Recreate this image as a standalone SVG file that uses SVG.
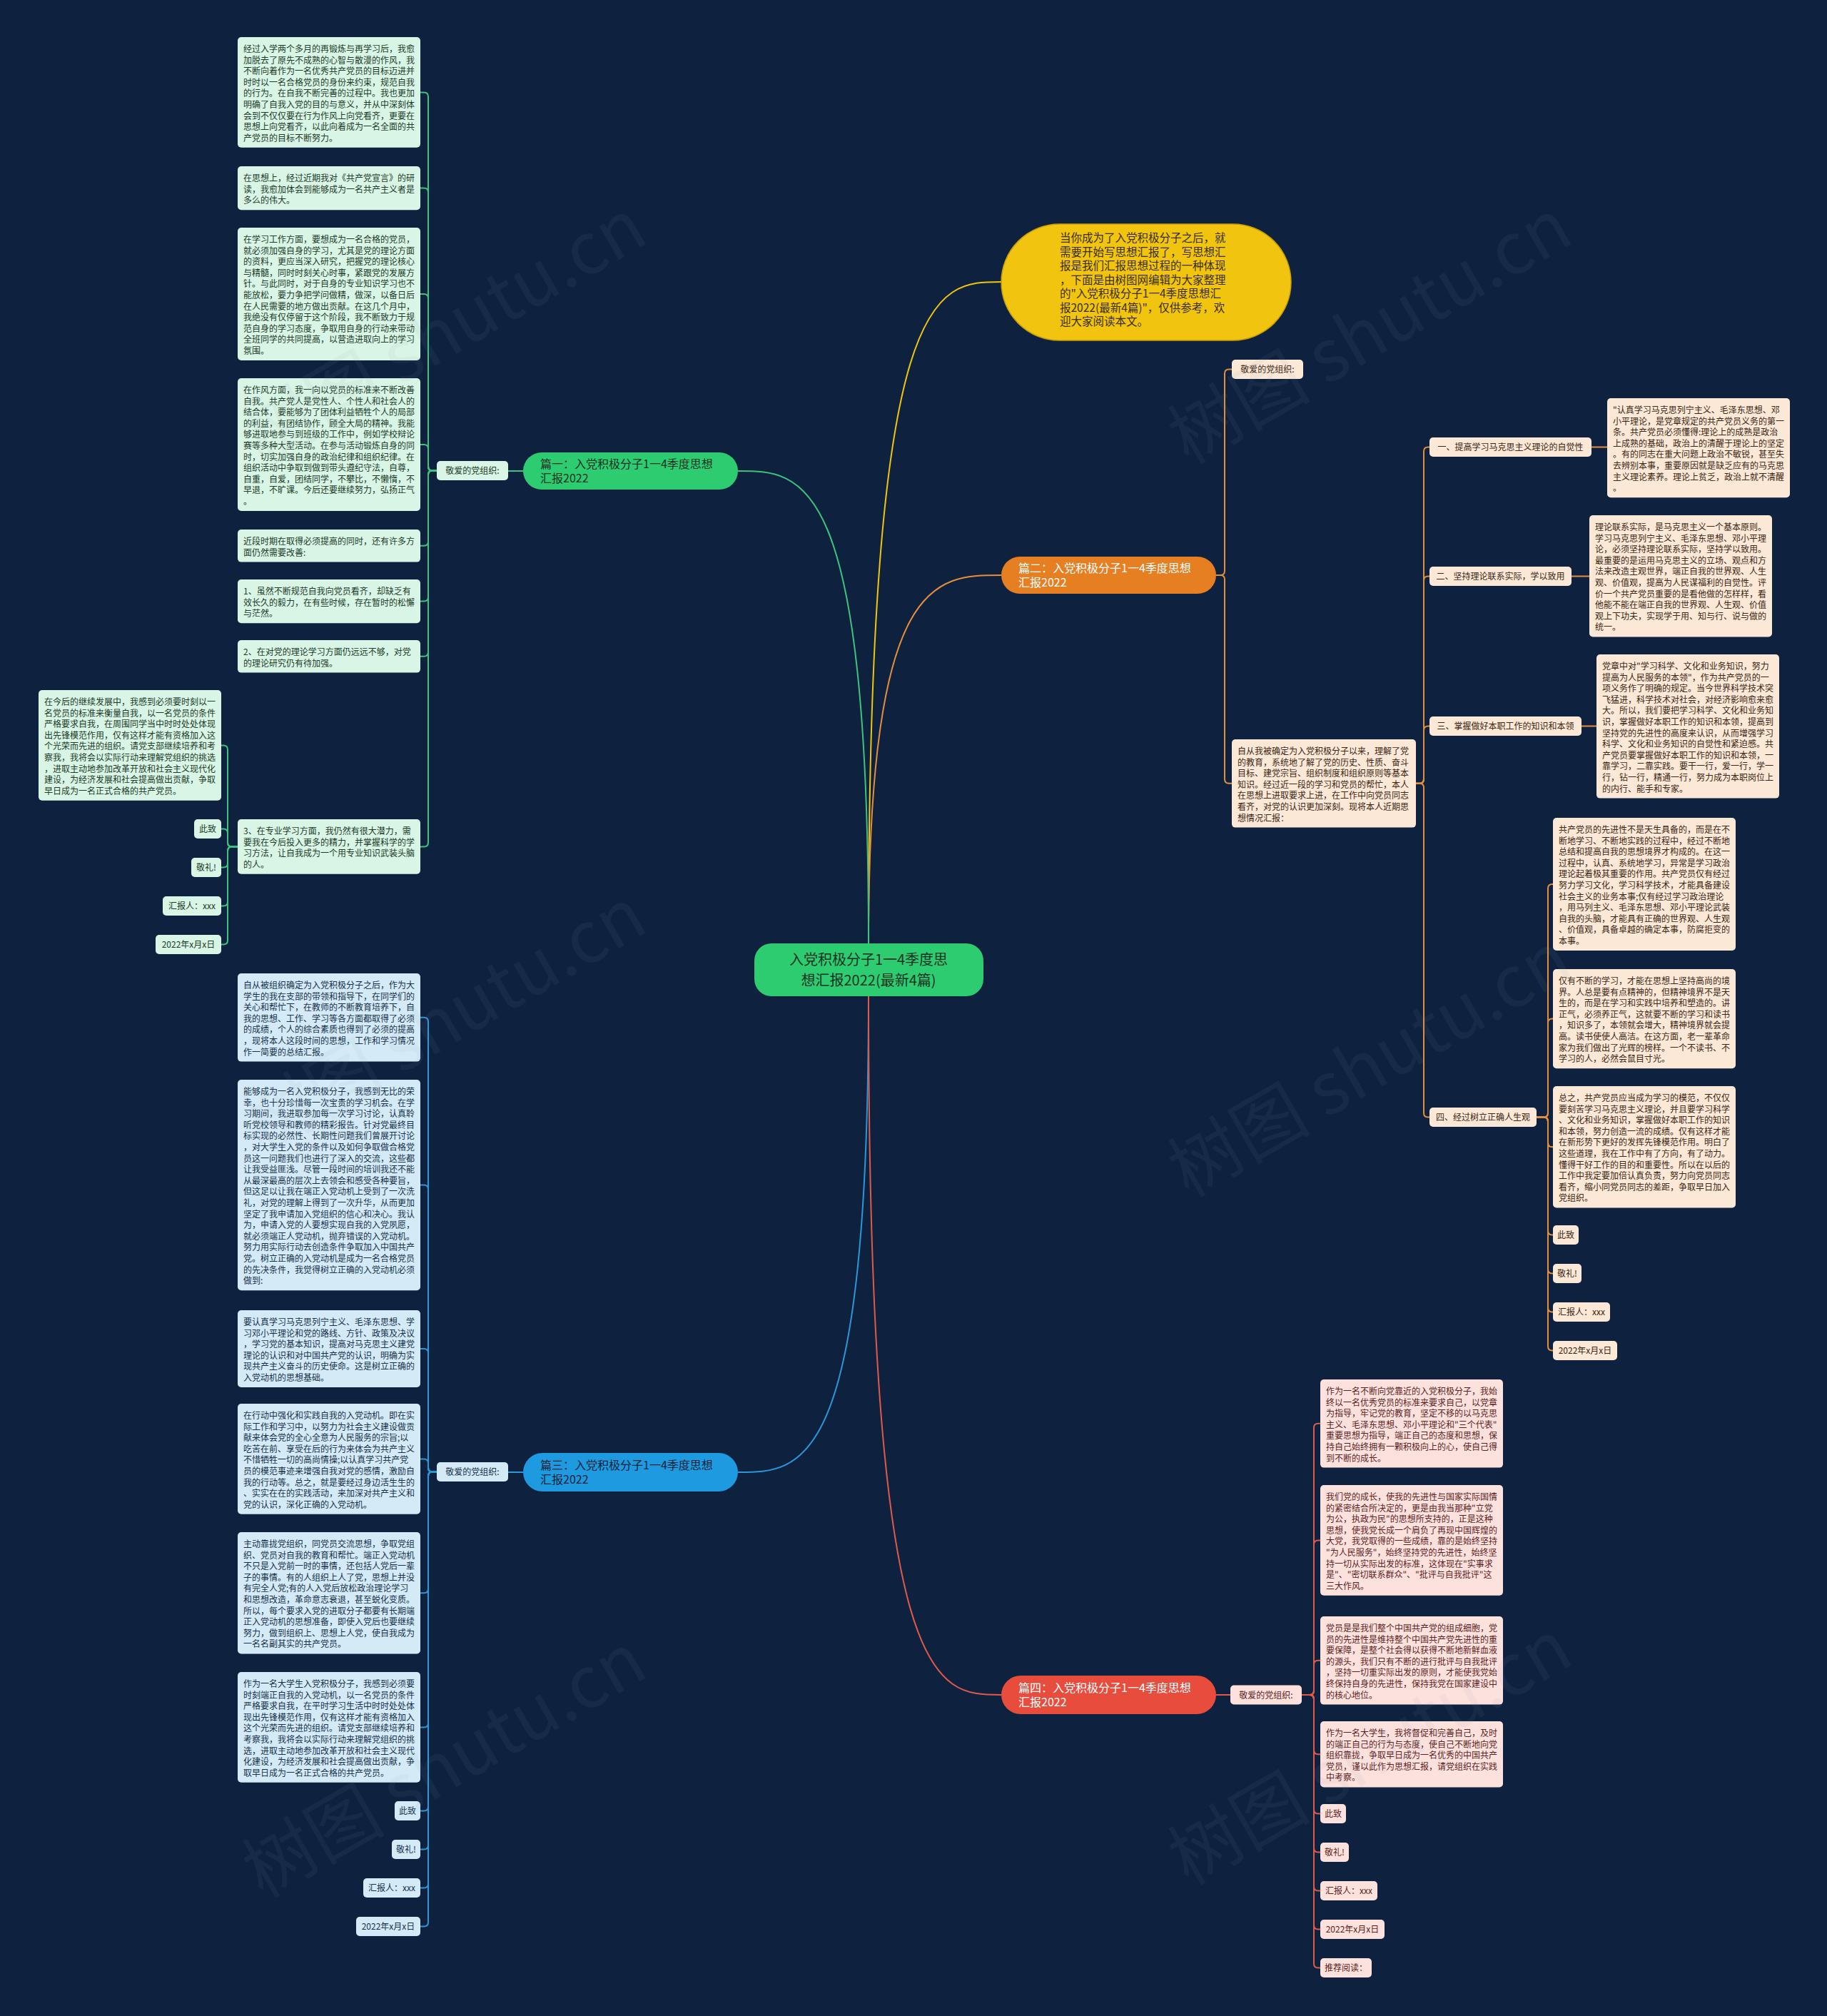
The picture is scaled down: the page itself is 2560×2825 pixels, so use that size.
<svg xmlns="http://www.w3.org/2000/svg" width="2560" height="2825" viewBox="0 0 2560 2825">
<style>
.t{font-family:"Noto Sans CJK SC","Noto Sans",sans-serif;font-size:12px}
.n{font-family:"Noto Sans CJK SC","Noto Sans",sans-serif;font-size:16px}
.gb{fill:#d9f5e5}.gt{fill:#1c3a29}
.bb{fill:#d4ebf7}.bt{fill:#16304a}
.ob{fill:#fbe8d6}.ot{fill:#3b2614}
.rb{fill:#fde1dd}.rt{fill:#5b1f1f}
.lk{fill:none;stroke-width:2}
.lg{stroke:#3cc47c}.lb{stroke:#2a97d8}.lo{stroke:#e58e3c}.lr{stroke:#e05a4a}.ly{stroke:#f1c40f}
.wm{font-family:"Noto Sans CJK SC","Noto Sans",sans-serif;font-size:100px;fill:#8a9bb0;opacity:0.07}
</style>
<rect width="2560" height="2825" fill="#0e2240"/>

<g id="connectors">
<path class="lk ly" d="M1217 1322 C1217 395 1310 395 1403 395" stroke-width="2.5"/>
<path class="lk lo" d="M1217 1322 C1217 806 1310 806 1403 806" stroke-width="2.5"/>
<path class="lk lg" d="M1217 1322 C1217 660 1125 660 1034 660" stroke-width="2.5"/>
<path class="lk lb" d="M1217 1396 C1217 2063 1125 2063 1034 2063" stroke-width="2.5"/>
<path class="lk lr" d="M1217 1396 C1217 2375 1310 2375 1403 2375" stroke-width="2.5"/>

<path class="lk lg" d="M733 660 H712"/>
<path class="lk lg" d="M612 659.5 H606 Q600 659.5 600 653.5 V135.4 Q600 129.4 594 129.4 H589"/>
<path class="lk lg" d="M612 659.5 H606 Q600 659.5 600 653.5 V269.6 Q600 263.6 594 263.6 H589"/>
<path class="lk lg" d="M612 659.5 H606 Q600 659.5 600 653.5 V418 Q600 412 594 412 H589"/>
<path class="lk lg" d="M612 659.5 H606 Q600 659.5 600 653.5 V629 Q600 623 594 623 H589"/>
<path class="lk lg" d="M612 659.5 H606 Q600 659.5 600 665.5 V758.8 Q600 764.8 594 764.8 H589"/>
<path class="lk lg" d="M612 659.5 H606 Q600 659.5 600 665.5 V836.6 Q600 842.6 594 842.6 H589"/>
<path class="lk lg" d="M612 659.5 H606 Q600 659.5 600 665.5 V913.8 Q600 919.8 594 919.8 H589"/>
<path class="lk lg" d="M612 659.5 H606 Q600 659.5 600 665.5 V1180.4 Q600 1186.4 594 1186.4 H589"/>
<path class="lk lg" d="M333 1186.4 H325 Q319 1186.4 319 1180.4 V1050.4 Q319 1044.4 313 1044.4 H310"/>
<path class="lk lg" d="M333 1186.4 H325 Q319 1186.4 319 1180.4 V1167.5 Q319 1161.5 313 1161.5 H310"/>
<path class="lk lg" d="M333 1186.4 H325 Q319 1186.4 319 1192.4 V1209.5 Q319 1215.5 313 1215.5 H310"/>
<path class="lk lg" d="M333 1186.4 H325 Q319 1186.4 319 1192.4 V1263.5 Q319 1269.5 313 1269.5 H310"/>
<path class="lk lg" d="M333 1186.4 H325 Q319 1186.4 319 1192.4 V1317.5 Q319 1323.5 313 1323.5 H310"/>

<path class="lk lb" d="M733 2063 H712"/>
<path class="lk lb" d="M612 2062.5 H606 Q600 2062.5 600 2056.5 V1431.8 Q600 1425.8 594 1425.8 H589"/>
<path class="lk lb" d="M612 2062.5 H606 Q600 2062.5 600 2056.5 V1666.6 Q600 1660.6 594 1660.6 H589"/>
<path class="lk lb" d="M612 2062.5 H606 Q600 2062.5 600 2056.5 V1896 Q600 1890 594 1890 H589"/>
<path class="lk lb" d="M612 2062.5 H606 Q600 2062.5 600 2056.5 V2050.4 Q600 2044.4 594 2044.4 H589"/>
<path class="lk lb" d="M612 2062.5 H606 Q600 2062.5 600 2068.5 V2226.2 Q600 2232.2 594 2232.2 H589"/>
<path class="lk lb" d="M612 2062.5 H606 Q600 2062.5 600 2068.5 V2414.4 Q600 2420.4 594 2420.4 H589"/>
<path class="lk lb" d="M612 2062.5 H606 Q600 2062.5 600 2068.5 V2531.5 Q600 2537.5 594 2537.5 H589"/>
<path class="lk lb" d="M612 2062.5 H606 Q600 2062.5 600 2068.5 V2585.5 Q600 2591.5 594 2591.5 H589"/>
<path class="lk lb" d="M612 2062.5 H606 Q600 2062.5 600 2068.5 V2639.5 Q600 2645.5 594 2645.5 H589"/>
<path class="lk lb" d="M612 2062.5 H606 Q600 2062.5 600 2068.5 V2693.5 Q600 2699.5 594 2699.5 H589"/>

<path class="lk lo" d="M1704 806 H1710 Q1716 806 1716 800 V523.5 Q1716 517.5 1722 517.5 H1726"/>
<path class="lk lo" d="M1704 806 H1710 Q1716 806 1716 812 V1091.8 Q1716 1097.8 1722 1097.8 H1726"/>
<path class="lk lo" d="M1984 1097.8 H1989 Q1995 1097.8 1995 1091.8 V632.5 Q1995 626.5 2001 626.5 H2003"/>
<path class="lk lo" d="M1984 1097.8 H1989 Q1995 1097.8 1995 1091.8 V813.5 Q1995 807.5 2001 807.5 H2003"/>
<path class="lk lo" d="M1984 1097.8 H1989 Q1995 1097.8 1995 1091.8 V1023.5 Q1995 1017.5 2001 1017.5 H2003"/>
<path class="lk lo" d="M1984 1097.8 H1989 Q1995 1097.8 1995 1103.8 V1559.5 Q1995 1565.5 2001 1565.5 H2003"/>
<path class="lk lo" d="M2230 626.5 H2252"/>
<path class="lk lo" d="M2202 807.5 H2227"/>
<path class="lk lo" d="M2216 1017.5 H2237"/>
<path class="lk lo" d="M2153 1565.5 H2163 Q2169 1565.5 2169 1559.5 V1245 Q2169 1239 2175 1239 H2176"/>
<path class="lk lo" d="M2153 1565.5 H2163 Q2169 1565.5 2169 1559.5 V1433.6 Q2169 1427.6 2175 1427.6 H2176"/>
<path class="lk lo" d="M2153 1565.5 H2163 Q2169 1565.5 2169 1571.5 V1601.2 Q2169 1607.2 2175 1607.2 H2176"/>
<path class="lk lo" d="M2153 1565.5 H2163 Q2169 1565.5 2169 1571.5 V1724.5 Q2169 1730.5 2175 1730.5 H2176"/>
<path class="lk lo" d="M2153 1565.5 H2163 Q2169 1565.5 2169 1571.5 V1778.5 Q2169 1784.5 2175 1784.5 H2176"/>
<path class="lk lo" d="M2153 1565.5 H2163 Q2169 1565.5 2169 1571.5 V1832.5 Q2169 1838.5 2175 1838.5 H2176"/>
<path class="lk lo" d="M2153 1565.5 H2163 Q2169 1565.5 2169 1571.5 V1886.5 Q2169 1892.5 2175 1892.5 H2176"/>

<path class="lk lr" d="M1704 2375 H1724"/>
<path class="lk lr" d="M1824 2375 H1835 Q1841 2375 1841 2369 V2000.8 Q1841 1994.8 1847 1994.8 H1850"/>
<path class="lk lr" d="M1824 2375 H1835 Q1841 2375 1841 2369 V2164.4 Q1841 2158.4 1847 2158.4 H1850"/>
<path class="lk lr" d="M1824 2375 H1835 Q1841 2375 1841 2369 V2332.8 Q1841 2326.8 1847 2326.8 H1850"/>
<path class="lk lr" d="M1824 2375 H1835 Q1841 2375 1841 2381 V2452.2 Q1841 2458.2 1847 2458.2 H1850"/>
<path class="lk lr" d="M1824 2375 H1835 Q1841 2375 1841 2381 V2535.5 Q1841 2541.5 1847 2541.5 H1850"/>
<path class="lk lr" d="M1824 2375 H1835 Q1841 2375 1841 2381 V2589.5 Q1841 2595.5 1847 2595.5 H1850"/>
<path class="lk lr" d="M1824 2375 H1835 Q1841 2375 1841 2381 V2643.5 Q1841 2649.5 1847 2649.5 H1850"/>
<path class="lk lr" d="M1824 2375 H1835 Q1841 2375 1841 2381 V2697.5 Q1841 2703.5 1847 2703.5 H1850"/>
<path class="lk lr" d="M1824 2375 H1835 Q1841 2375 1841 2381 V2751.5 Q1841 2757.5 1847 2757.5 H1850"/>
</g>

<g id="root">
<rect x="1057" y="1322" width="321" height="74" rx="24" fill="#2ecc71"/>
<text font-family="Noto Sans CJK SC, Noto Sans, sans-serif" font-size="20" fill="#153322" text-anchor="middle"><tspan x="1217" y="1352">入党积极分子1一4季度思</tspan><tspan x="1217" y="1381">想汇报2022(最新4篇)</tspan></text>
</g>

<g id="intro">
<rect x="1403" y="314" width="406" height="163" rx="81.5" fill="#f1c40f" stroke="#c99f08" stroke-width="1.5"/>
<text font-family="Noto Sans CJK SC, Noto Sans, sans-serif" font-size="15.5" fill="#3a2e00"><tspan x="1485" y="339">当你成为了入党积极分子之后，就</tspan><tspan x="1485" dy="19.5">需要开始写思想汇报了，写思想汇</tspan><tspan x="1485" dy="19.5">报是我们汇报思想过程的一种体现</tspan><tspan x="1485" dy="19.5">，下面是由树图网编辑为大家整理</tspan><tspan x="1485" dy="19.5">的"入党积极分子1一4季度思想汇</tspan><tspan x="1485" dy="19.5">报2022(最新4篇)"，仅供参考，欢</tspan><tspan x="1485" dy="19.5">迎大家阅读本文。</tspan></text>
</g>

<!-- Branch 1 green -->
<g id="b1">
<rect x="733" y="634" width="301" height="52" rx="26" fill="#2ecc71"/>
<text class="n" fill="#153322"><tspan x="757" y="656">篇一：入党积极分子1一4季度思想</tspan><tspan x="757" dy="20">汇报2022</tspan></text>
</g>
<g id="b1-salute">
<rect class="gb" x="612" y="646" width="100" height="27" rx="5"/>
<text class="t gt" x="662" y="664" text-anchor="middle">敬爱的党组织:</text>
</g>
<g id="b1-p1">
<rect class="gb" x="333" y="52" width="256" height="154.8" rx="5"/>
<text class="t gt"><tspan x="341" y="73">经过入学两个多月的再锻炼与再学习后，我愈</tspan><tspan x="341" dy="15.6">加脱去了原先不成熟的心智与散漫的作风，我</tspan><tspan x="341" dy="15.6">不断向着作为一名优秀共产党员的目标迈进并</tspan><tspan x="341" dy="15.6">时时以一名合格党员的身份来约束，规范自我</tspan><tspan x="341" dy="15.6">的行为。在自我不断完善的过程中。我也更加</tspan><tspan x="341" dy="15.6">明确了自我入党的目的与意义，并从中深刻体</tspan><tspan x="341" dy="15.6">会到不仅仅要在行为作风上向党看齐，更要在</tspan><tspan x="341" dy="15.6">思想上向党看齐，以此向着成为一名全面的共</tspan><tspan x="341" dy="15.6">产党员的目标不断努力。</tspan></text>
</g>
<g id="b1-p2">
<rect class="gb" x="333" y="233" width="256" height="61.2" rx="5"/>
<text class="t gt"><tspan x="341" y="254">在思想上，经过近期我对《共产党宣言》的研</tspan><tspan x="341" dy="15.6">读，我愈加体会到能够成为一名共产主义者是</tspan><tspan x="341" dy="15.6">多么的伟大。</tspan></text>
</g>
<g id="b1-p3">
<rect class="gb" x="333" y="319" width="256" height="186" rx="5"/>
<text class="t gt"><tspan x="341" y="340">在学习工作方面，要想成为一名合格的党员，</tspan><tspan x="341" dy="15.6">就必须加强自身的学习，尤其是党的理论方面</tspan><tspan x="341" dy="15.6">的资料，更应当深入研究，把握党的理论核心</tspan><tspan x="341" dy="15.6">与精髓，同时时刻关心时事，紧跟党的发展方</tspan><tspan x="341" dy="15.6">针。与此同时，对于自身的专业知识学习也不</tspan><tspan x="341" dy="15.6">能放松，要力争把学问做精，做深，以备日后</tspan><tspan x="341" dy="15.6">在人民需要的地方做出贡献。在这几个月中，</tspan><tspan x="341" dy="15.6">我绝没有仅停留于这个阶段，我不断致力于规</tspan><tspan x="341" dy="15.6">范自身的学习态度，争取用自身的行动来带动</tspan><tspan x="341" dy="15.6">全班同学的共同提高，以营造进取向上的学习</tspan><tspan x="341" dy="15.6">氛围。</tspan></text>
</g>
<g id="b1-p4">
<rect class="gb" x="333" y="530" width="256" height="186" rx="5"/>
<text class="t gt"><tspan x="341" y="551">在作风方面，我一向以党员的标准来不断改善</tspan><tspan x="341" dy="15.6">自我。共产党人是党性人、个性人和社会人的</tspan><tspan x="341" dy="15.6">结合体，要能够为了团体利益牺牲个人的局部</tspan><tspan x="341" dy="15.6">的利益，有团结协作，顾全大局的精神。我能</tspan><tspan x="341" dy="15.6">够进取地参与到班级的工作中，例如学校辩论</tspan><tspan x="341" dy="15.6">赛等多种大型活动。在参与活动锻炼自身的同</tspan><tspan x="341" dy="15.6">时，切实加强自身的政治纪律和组织纪律。在</tspan><tspan x="341" dy="15.6">组织活动中争取到做到带头遵纪守法，自尊，</tspan><tspan x="341" dy="15.6">自重，自爱，团结同学，不攀比，不懒惰，不</tspan><tspan x="341" dy="15.6">早退，不旷课。今后还要继续努力，弘扬正气</tspan><tspan x="341" dy="15.6">。</tspan></text>
</g>
<g id="b1-p5">
<rect class="gb" x="333" y="742" width="256" height="45.6" rx="5"/>
<text class="t gt"><tspan x="341" y="763">近段时期在取得必须提高的同时，还有许多方</tspan><tspan x="341" dy="15.6">面仍然需要改善:</tspan></text>
</g>
<g id="b1-p6">
<rect class="gb" x="333" y="812" width="256" height="61.2" rx="5"/>
<text class="t gt"><tspan x="341" y="833">1、虽然不断规范自我向党员看齐，却缺乏有</tspan><tspan x="341" dy="15.6">效长久的毅力，在有些时候，存在暂时的松懈</tspan><tspan x="341" dy="15.6">与茫然。</tspan></text>
</g>
<g id="b1-p7">
<rect class="gb" x="333" y="897" width="256" height="45.6" rx="5"/>
<text class="t gt"><tspan x="341" y="918">2、在对党的理论学习方面仍远远不够，对党</tspan><tspan x="341" dy="15.6">的理论研究仍有待加强。</tspan></text>
</g>
<g id="b1-p8">
<rect class="gb" x="333" y="1148" width="256" height="76.8" rx="5"/>
<text class="t gt"><tspan x="341" y="1169">3、在专业学习方面，我仍然有很大潜力，需</tspan><tspan x="341" dy="15.6">要我在今后投入更多的精力，并掌握科学的学</tspan><tspan x="341" dy="15.6">习方法，让自我成为一个用专业知识武装头脑</tspan><tspan x="341" dy="15.6">的人。</tspan></text>
</g>
<g id="b1-p9">
<rect class="gb" x="54" y="967" width="256" height="154.8" rx="5"/>
<text class="t gt"><tspan x="62" y="988">在今后的继续发展中，我感到必须要时刻以一</tspan><tspan x="62" dy="15.6">名党员的标准来衡量自我，以一名党员的条件</tspan><tspan x="62" dy="15.6">严格要求自我，在周围同学当中时时处处体现</tspan><tspan x="62" dy="15.6">出先锋模范作用，仅有这样才能有资格加入这</tspan><tspan x="62" dy="15.6">个光荣而先进的组织。请党支部继续培养和考</tspan><tspan x="62" dy="15.6">察我，我将会以实际行动来理解党组织的挑选</tspan><tspan x="62" dy="15.6">，进取主动地参加改革开放和社会主义现代化</tspan><tspan x="62" dy="15.6">建设，为经济发展和社会提高做出贡献，争取</tspan><tspan x="62" dy="15.6">早日成为一名正式合格的共产党员。</tspan></text>
</g>
<g id="b1-e1"><rect class="gb" x="272" y="1148" width="38" height="27" rx="5"/><text class="t gt" x="291" y="1166" text-anchor="middle">此致</text></g>
<g id="b1-e2"><rect class="gb" x="268" y="1202" width="42" height="27" rx="5"/><text class="t gt" x="289" y="1220" text-anchor="middle">敬礼!</text></g>
<g id="b1-e3"><rect class="gb" x="228" y="1256" width="82" height="27" rx="5"/><text class="t gt" x="269" y="1274" text-anchor="middle">汇报人：xxx</text></g>
<g id="b1-e4"><rect class="gb" x="218" y="1310" width="92" height="27" rx="5"/><text class="t gt" x="264" y="1328" text-anchor="middle">2022年x月x日</text></g>

<!-- Branch 2 orange -->
<g id="b2">
<rect x="1403" y="780" width="301" height="52" rx="26" fill="#e67e22"/>
<text class="n" fill="#ffffff"><tspan x="1427" y="802">篇二：入党积极分子1一4季度思想</tspan><tspan x="1427" dy="20">汇报2022</tspan></text>
</g>
<g id="b2-salute"><rect class="ob" x="1726" y="504" width="100" height="27" rx="5"/><text class="t ot" x="1776" y="522" text-anchor="middle">敬爱的党组织:</text></g>
<g id="b2-intro">
<rect class="ob" x="1726" y="1036" width="258" height="123.6" rx="5"/>
<text class="t ot"><tspan x="1734" y="1057">自从我被确定为入党积极分子以来，理解了党</tspan><tspan x="1734" dy="15.6">的教育，系统地了解了党的历史、性质、奋斗</tspan><tspan x="1734" dy="15.6">目标、建党宗旨、组织制度和组织原则等基本</tspan><tspan x="1734" dy="15.6">知识。经过近一段的学习和党员的帮忙，本人</tspan><tspan x="1734" dy="15.6">在思想上进取要求上进，在工作中向党员同志</tspan><tspan x="1734" dy="15.6">看齐，对党的认识更加深刻。现将本人近期思</tspan><tspan x="1734" dy="15.6">想情况汇报：</tspan></text>
</g>
<g id="b2-h1"><rect class="ob" x="2003" y="613" width="227" height="27" rx="5"/><text class="t ot" x="2116.5" y="631" text-anchor="middle">一、提高学习马克思主义理论的自觉性</text></g>
<g id="b2-h2"><rect class="ob" x="2003" y="794" width="199" height="27" rx="5"/><text class="t ot" x="2102.5" y="812" text-anchor="middle">二、坚持理论联系实际，学以致用</text></g>
<g id="b2-h3"><rect class="ob" x="2003" y="1004" width="213" height="27" rx="5"/><text class="t ot" x="2109.5" y="1022" text-anchor="middle">三、掌握做好本职工作的知识和本领</text></g>
<g id="b2-h4"><rect class="ob" x="2003" y="1552" width="150" height="27" rx="5"/><text class="t ot" x="2078" y="1570" text-anchor="middle">四、经过树立正确人生观</text></g>
<g id="b2-d1">
<rect class="ob" x="2252" y="558" width="256" height="139.2" rx="5"/>
<text class="t ot"><tspan x="2260" y="579">"认真学习马克思列宁主义、毛泽东思想、邓</tspan><tspan x="2260" dy="15.6">小平理论，是党章规定的共产党员义务的第一</tspan><tspan x="2260" dy="15.6">条。共产党员必须懂得:理论上的成熟是政治</tspan><tspan x="2260" dy="15.6">上成熟的基础，政治上的清醒于理论上的坚定</tspan><tspan x="2260" dy="15.6">。有的同志在重大问题上政治不敏锐，甚至失</tspan><tspan x="2260" dy="15.6">去辨别本事，重要原因就是缺乏应有的马克思</tspan><tspan x="2260" dy="15.6">主义理论素养。理论上贫乏，政治上就不清醒</tspan><tspan x="2260" dy="15.6">。</tspan></text>
</g>
<g id="b2-d2">
<rect class="ob" x="2227" y="722" width="256" height="170.4" rx="5"/>
<text class="t ot"><tspan x="2235" y="743">理论联系实际，是马克思主义一个基本原则。</tspan><tspan x="2235" dy="15.6">学习马克思列宁主义、毛泽东思想、邓小平理</tspan><tspan x="2235" dy="15.6">论，必须坚持理论联系实际，坚持学以致用。</tspan><tspan x="2235" dy="15.6">最重要的是运用马克思主义的立场、观点和方</tspan><tspan x="2235" dy="15.6">法来改造主观世界，端正自我的世界观、人生</tspan><tspan x="2235" dy="15.6">观、价值观，提高为人民谋福利的自觉性。评</tspan><tspan x="2235" dy="15.6">价一个共产党员重要的是看他做的怎样样，看</tspan><tspan x="2235" dy="15.6">他能不能在端正自我的世界观、人生观、价值</tspan><tspan x="2235" dy="15.6">观上下功夫，实现学于用、知与行、说与做的</tspan><tspan x="2235" dy="15.6">统一。</tspan></text>
</g>
<g id="b2-d3">
<rect class="ob" x="2237" y="917" width="256" height="201.6" rx="5"/>
<text class="t ot"><tspan x="2245" y="938">党章中对"学习科学、文化和业务知识，努力</tspan><tspan x="2245" dy="15.6">提高为人民服务的本领"，作为共产党员的一</tspan><tspan x="2245" dy="15.6">项义务作了明确的规定。当今世界科学技术突</tspan><tspan x="2245" dy="15.6">飞猛进，科学技术对社会，对经济影响愈来愈</tspan><tspan x="2245" dy="15.6">大。所以，我们要把学习科学、文化和业务知</tspan><tspan x="2245" dy="15.6">识，掌握做好本职工作的知识和本领，提高到</tspan><tspan x="2245" dy="15.6">坚持党的先进性的高度来认识，从而增强学习</tspan><tspan x="2245" dy="15.6">科学、文化和业务知识的自觉性和紧迫感。共</tspan><tspan x="2245" dy="15.6">产党员要掌握做好本职工作的知识和本领，一</tspan><tspan x="2245" dy="15.6">靠学习，二靠实践。要干一行，爱一行，学一</tspan><tspan x="2245" dy="15.6">行，钻一行，精通一行，努力成为本职岗位上</tspan><tspan x="2245" dy="15.6">的内行、能手和专家。</tspan></text>
</g>
<g id="b2-d4a">
<rect class="ob" x="2176" y="1146" width="256" height="186" rx="5"/>
<text class="t ot"><tspan x="2184" y="1167">共产党员的先进性不是天生具备的，而是在不</tspan><tspan x="2184" dy="15.6">断地学习、不断地实践的过程中，经过不断地</tspan><tspan x="2184" dy="15.6">总结和提高自我的思想境界才构成的。在这一</tspan><tspan x="2184" dy="15.6">过程中，认真、系统地学习，异常是学习政治</tspan><tspan x="2184" dy="15.6">理论起着极其重要的作用。共产党员仅有经过</tspan><tspan x="2184" dy="15.6">努力学习文化，学习科学技术，才能具备建设</tspan><tspan x="2184" dy="15.6">社会主义的业务本事;仅有经过学习政治理论</tspan><tspan x="2184" dy="15.6">，用马列主义、毛泽东思想、邓小平理论武装</tspan><tspan x="2184" dy="15.6">自我的头脑，才能具有正确的世界观、人生观</tspan><tspan x="2184" dy="15.6">、价值观，具备卓越的确定本事，防腐拒变的</tspan><tspan x="2184" dy="15.6">本事。</tspan></text>
</g>
<g id="b2-d4b">
<rect class="ob" x="2176" y="1358" width="256" height="139.2" rx="5"/>
<text class="t ot"><tspan x="2184" y="1379">仅有不断的学习，才能在思想上坚持高尚的境</tspan><tspan x="2184" dy="15.6">界。人总是要有点精神的，但精神境界不是天</tspan><tspan x="2184" dy="15.6">生的，而是在学习和实践中培养和塑造的。讲</tspan><tspan x="2184" dy="15.6">正气，必须养正气，这就要不断的学习和读书</tspan><tspan x="2184" dy="15.6">，知识多了，本领就会增大，精神境界就会提</tspan><tspan x="2184" dy="15.6">高。读书使使人高洁。在这方面，老一辈革命</tspan><tspan x="2184" dy="15.6">家为我们做出了光辉的榜样。一个不读书、不</tspan><tspan x="2184" dy="15.6">学习的人，必然会鼠目寸光。</tspan></text>
</g>
<g id="b2-d4c">
<rect class="ob" x="2176" y="1522" width="256" height="170.4" rx="5"/>
<text class="t ot"><tspan x="2184" y="1543">总之，共产党员应当成为学习的模范，不仅仅</tspan><tspan x="2184" dy="15.6">要刻苦学习马克思主义理论，并且要学习科学</tspan><tspan x="2184" dy="15.6">、文化和业务知识，掌握做好本职工作的知识</tspan><tspan x="2184" dy="15.6">和本领，努力创造一流的成绩。仅有这样才能</tspan><tspan x="2184" dy="15.6">在新形势下更好的发挥先锋模范作用。明白了</tspan><tspan x="2184" dy="15.6">这些道理，我在工作中有了方向，有了动力。</tspan><tspan x="2184" dy="15.6">懂得干好工作的目的和重要性。所以在以后的</tspan><tspan x="2184" dy="15.6">工作中我定要加倍认真负责，努力向党员同志</tspan><tspan x="2184" dy="15.6">看齐，缩小同党员同志的差距，争取早日加入</tspan><tspan x="2184" dy="15.6">党组织。</tspan></text>
</g>
<g id="b2-e1"><rect class="ob" x="2176" y="1717" width="36" height="27" rx="5"/><text class="t ot" x="2194" y="1735" text-anchor="middle">此致</text></g>
<g id="b2-e2"><rect class="ob" x="2176" y="1771" width="40" height="27" rx="5"/><text class="t ot" x="2196" y="1789" text-anchor="middle">敬礼!</text></g>
<g id="b2-e3"><rect class="ob" x="2176" y="1825" width="80" height="27" rx="5"/><text class="t ot" x="2216" y="1843" text-anchor="middle">汇报人：xxx</text></g>
<g id="b2-e4"><rect class="ob" x="2176" y="1879" width="90" height="27" rx="5"/><text class="t ot" x="2221" y="1897" text-anchor="middle">2022年x月x日</text></g>

<!-- Branch 3 blue -->
<g id="b3">
<rect x="733" y="2036" width="301" height="54" rx="27" fill="#1e9be0"/>
<text class="n" fill="#0f2338"><tspan x="757" y="2059">篇三：入党积极分子1一4季度思想</tspan><tspan x="757" dy="20">汇报2022</tspan></text>
</g>
<g id="b3-salute"><rect class="bb" x="612" y="2049" width="100" height="27" rx="5"/><text class="t bt" x="662" y="2067" text-anchor="middle">敬爱的党组织:</text></g>
<g id="b3-p1">
<rect class="bb" x="333" y="1364" width="256" height="123.6" rx="5"/>
<text class="t bt"><tspan x="341" y="1385">自从被组织确定为入党积极分子之后，作为大</tspan><tspan x="341" dy="15.6">学生的我在支部的带领和指导下，在同学们的</tspan><tspan x="341" dy="15.6">关心和帮忙下，在教师的不断教育培养下，自</tspan><tspan x="341" dy="15.6">我的思想、工作、学习等各方面都取得了必须</tspan><tspan x="341" dy="15.6">的成绩，个人的综合素质也得到了必须的提高</tspan><tspan x="341" dy="15.6">，现将本人这段时间的思想，工作和学习情况</tspan><tspan x="341" dy="15.6">作一简要的总结汇报。</tspan></text>
</g>
<g id="b3-p2">
<rect class="bb" x="333" y="1513" width="256" height="295.2" rx="5"/>
<text class="t bt"><tspan x="341" y="1534">能够成为一名入党积极分子，我感到无比的荣</tspan><tspan x="341" dy="15.6">幸，也十分珍惜每一次宝贵的学习机会。在学</tspan><tspan x="341" dy="15.6">习期间，我进取参加每一次学习讨论，认真聆</tspan><tspan x="341" dy="15.6">听党校领导和教师的精彩报告。针对党最终目</tspan><tspan x="341" dy="15.6">标实现的必然性、长期性问题我们曾展开讨论</tspan><tspan x="341" dy="15.6">，对大学生入党的条件以及如何争取做合格党</tspan><tspan x="341" dy="15.6">员这一问题我们也进行了深入的交流，这些都</tspan><tspan x="341" dy="15.6">让我受益匪浅。尽管一段时间的培训我还不能</tspan><tspan x="341" dy="15.6">从最深最高的层次上去领会和感受各种要旨，</tspan><tspan x="341" dy="15.6">但这足以让我在端正入党动机上受到了一次洗</tspan><tspan x="341" dy="15.6">礼，对党的理解上得到了一次升华，从而更加</tspan><tspan x="341" dy="15.6">坚定了我申请加入党组织的信心和决心。我认</tspan><tspan x="341" dy="15.6">为，申请入党的人要想实现自我的入党夙愿，</tspan><tspan x="341" dy="15.6">就必须端正人党动机，抛弃错误的入党动机。</tspan><tspan x="341" dy="15.6">努力用实际行动去创造条件争取加入中国共产</tspan><tspan x="341" dy="15.6">党。树立正确的入党动机是成为一名合格党员</tspan><tspan x="341" dy="15.6">的先决条件，我觉得树立正确的入党动机必须</tspan><tspan x="341" dy="15.6">做到:</tspan></text>
</g>
<g id="b3-p3">
<rect class="bb" x="333" y="1836" width="256" height="108" rx="5"/>
<text class="t bt"><tspan x="341" y="1857">要认真学习马克思列宁主义、毛泽东思想、学</tspan><tspan x="341" dy="15.6">习邓小平理论和党的路线、方针、政策及决议</tspan><tspan x="341" dy="15.6">，学习党的基本知识，提高对马克思主义建党</tspan><tspan x="341" dy="15.6">理论的认识和对中国共产党的认识，明确为实</tspan><tspan x="341" dy="15.6">现共产主义奋斗的历史使命。这是树立正确的</tspan><tspan x="341" dy="15.6">入党动机的思想基础。</tspan></text>
</g>
<g id="b3-p4">
<rect class="bb" x="333" y="1967" width="256" height="154.8" rx="5"/>
<text class="t bt"><tspan x="341" y="1988">在行动中强化和实践自我的入党动机。即在实</tspan><tspan x="341" dy="15.6">际工作和学习中，以努力为社会主义建设做贡</tspan><tspan x="341" dy="15.6">献来体会党的全心全意为人民服务的宗旨;以</tspan><tspan x="341" dy="15.6">吃苦在前、享受在后的行为来体会为共产主义</tspan><tspan x="341" dy="15.6">不惜牺牲一切的高尚情操;以认真学习共产党</tspan><tspan x="341" dy="15.6">员的模范事迹来增强自我对党的感情，激励自</tspan><tspan x="341" dy="15.6">我的行动等。总之，就是要经过身边活生生的</tspan><tspan x="341" dy="15.6">、实实在在的实践活动，来加深对共产主义和</tspan><tspan x="341" dy="15.6">党的认识，深化正确的入党动机。</tspan></text>
</g>
<g id="b3-p5">
<rect class="bb" x="333" y="2147" width="256" height="170.4" rx="5"/>
<text class="t bt"><tspan x="341" y="2168">主动靠拢党组织，同党员交流思想，争取党组</tspan><tspan x="341" dy="15.6">织、党员对自我的教育和帮忙。端正入党动机</tspan><tspan x="341" dy="15.6">不只是入党前一时的事情，还包括人党后一辈</tspan><tspan x="341" dy="15.6">子的事情。有的人组织上人了党，思想上并没</tspan><tspan x="341" dy="15.6">有完全人党;有的人入党后放松政治理论学习</tspan><tspan x="341" dy="15.6">和思想改造，革命意志衰退，甚至蜕化变质。</tspan><tspan x="341" dy="15.6">所以，每个要求入党的进取分子都要有长期端</tspan><tspan x="341" dy="15.6">正入党动机的思想准备，即使入党后也要继续</tspan><tspan x="341" dy="15.6">努力，做到组织上、思想上人党，使自我成为</tspan><tspan x="341" dy="15.6">一名名副其实的共产党员。</tspan></text>
</g>
<g id="b3-p6">
<rect class="bb" x="333" y="2343" width="256" height="154.8" rx="5"/>
<text class="t bt"><tspan x="341" y="2364">作为一名大学生入党积极分子，我感到必须要</tspan><tspan x="341" dy="15.6">时刻端正自我的入党动机，以一名党员的条件</tspan><tspan x="341" dy="15.6">严格要求自我，在平时学习生活中时时处处体</tspan><tspan x="341" dy="15.6">现出先锋模范作用，仅有这样才能有资格加入</tspan><tspan x="341" dy="15.6">这个光荣而先进的组织。请党支部继续培养和</tspan><tspan x="341" dy="15.6">考察我，我将会以实际行动来理解党组织的挑</tspan><tspan x="341" dy="15.6">选，进取主动地参加改革开放和社会主义现代</tspan><tspan x="341" dy="15.6">化建设，为经济发展和社会提高做出贡献，争</tspan><tspan x="341" dy="15.6">取早日成为一名正式合格的共产党员。</tspan></text>
</g>
<g id="b3-e1"><rect class="bb" x="553" y="2524" width="36" height="27" rx="5"/><text class="t bt" x="571" y="2542" text-anchor="middle">此致</text></g>
<g id="b3-e2"><rect class="bb" x="549" y="2578" width="40" height="27" rx="5"/><text class="t bt" x="569" y="2596" text-anchor="middle">敬礼!</text></g>
<g id="b3-e3"><rect class="bb" x="509" y="2632" width="80" height="27" rx="5"/><text class="t bt" x="549" y="2650" text-anchor="middle">汇报人：xxx</text></g>
<g id="b3-e4"><rect class="bb" x="499" y="2686" width="90" height="27" rx="5"/><text class="t bt" x="544" y="2704" text-anchor="middle">2022年x月x日</text></g>

<!-- Branch 4 red -->
<g id="b4">
<rect x="1403" y="2348" width="301" height="54" rx="27" fill="#e74c3c"/>
<text class="n" fill="#ffffff"><tspan x="1427" y="2371">篇四：入党积极分子1一4季度思想</tspan><tspan x="1427" dy="20">汇报2022</tspan></text>
</g>
<g id="b4-salute"><rect class="rb" x="1724" y="2361.5" width="100" height="27" rx="5"/><text class="t rt" x="1774" y="2379.5" text-anchor="middle">敬爱的党组织:</text></g>
<g id="b4-p1">
<rect class="rb" x="1850" y="1933" width="256" height="123.6" rx="5"/>
<text class="t rt"><tspan x="1858" y="1954">作为一名不断向党靠近的入党积极分子，我始</tspan><tspan x="1858" dy="15.6">终以一名优秀党员的标准来要求自己，以党章</tspan><tspan x="1858" dy="15.6">为指导，牢记党的教育，坚定不移的以马克思</tspan><tspan x="1858" dy="15.6">主义、毛泽东思想、邓小平理论和"三个代表"</tspan><tspan x="1858" dy="15.6">重要思想为指导，端正自己的态度和思想，保</tspan><tspan x="1858" dy="15.6">持自己始终拥有一颗积极向上的心，使自己得</tspan><tspan x="1858" dy="15.6">到不断的成长。</tspan></text>
</g>
<g id="b4-p2">
<rect class="rb" x="1850" y="2081" width="256" height="154.8" rx="5"/>
<text class="t rt"><tspan x="1858" y="2102">我们党的成长，使我的先进性与国家实际国情</tspan><tspan x="1858" dy="15.6">的紧密结合所决定的，更是由我当那种"立党</tspan><tspan x="1858" dy="15.6">为公，执政为民"的思想所支持的，正是这种</tspan><tspan x="1858" dy="15.6">思想，使我党长成一个肩负了再现中国辉煌的</tspan><tspan x="1858" dy="15.6">大党，我党取得的一些成绩，靠的是始终坚持</tspan><tspan x="1858" dy="15.6">"为人民服务"，始终坚持党的先进性，始终坚</tspan><tspan x="1858" dy="15.6">持一切从实际出发的标准，这体现在"实事求</tspan><tspan x="1858" dy="15.6">是"、"密切联系群众"、"批评与自我批评"这</tspan><tspan x="1858" dy="15.6">三大作风。</tspan></text>
</g>
<g id="b4-p3">
<rect class="rb" x="1850" y="2265" width="256" height="123.6" rx="5"/>
<text class="t rt"><tspan x="1858" y="2286">党员是是我们整个中国共产党的组成细胞，党</tspan><tspan x="1858" dy="15.6">员的先进性是维持整个中国共产党先进性的重</tspan><tspan x="1858" dy="15.6">要保障，是整个社会得以获得不断地新鲜血液</tspan><tspan x="1858" dy="15.6">的源头，我们只有不断的进行批评与自我批评</tspan><tspan x="1858" dy="15.6">，坚持一切重实际出发的原则，才能使我党始</tspan><tspan x="1858" dy="15.6">终保持自身的先进性，保持我党在国家建设中</tspan><tspan x="1858" dy="15.6">的核心地位。</tspan></text>
</g>
<g id="b4-p4">
<rect class="rb" x="1850" y="2412" width="256" height="92.4" rx="5"/>
<text class="t rt"><tspan x="1858" y="2433">作为一名大学生，我将督促和完善自己，及时</tspan><tspan x="1858" dy="15.6">的端正自己的行为与态度，使自己不断地向党</tspan><tspan x="1858" dy="15.6">组织靠拢，争取早日成为一名优秀的中国共产</tspan><tspan x="1858" dy="15.6">党员，谨以此作为思想汇报，请党组织在实践</tspan><tspan x="1858" dy="15.6">中考察。</tspan></text>
</g>
<g id="b4-e1"><rect class="rb" x="1850" y="2528" width="36" height="27" rx="5"/><text class="t rt" x="1868" y="2546" text-anchor="middle">此致</text></g>
<g id="b4-e2"><rect class="rb" x="1850" y="2582" width="40" height="27" rx="5"/><text class="t rt" x="1870" y="2600" text-anchor="middle">敬礼!</text></g>
<g id="b4-e3"><rect class="rb" x="1850" y="2636" width="80" height="27" rx="5"/><text class="t rt" x="1890" y="2654" text-anchor="middle">汇报人：xxx</text></g>
<g id="b4-e4"><rect class="rb" x="1850" y="2690" width="90" height="27" rx="5"/><text class="t rt" x="1895" y="2708" text-anchor="middle">2022年x月x日</text></g>
<g id="b4-e5"><rect class="rb" x="1850" y="2744" width="72" height="27" rx="5"/><text class="t rt" x="1886" y="2762" text-anchor="middle">推荐阅读：</text></g>

<g id="watermarks">
<text class="wm" transform="translate(640 495) rotate(-30)" text-anchor="middle">树图 shutu.cn</text>
<text class="wm" transform="translate(1937 495) rotate(-30)" text-anchor="middle">树图 shutu.cn</text>
<text class="wm" transform="translate(640 1460) rotate(-30)" text-anchor="middle">树图 shutu.cn</text>
<text class="wm" transform="translate(1937 1522) rotate(-30)" text-anchor="middle">树图 shutu.cn</text>
<text class="wm" transform="translate(640 2504) rotate(-30)" text-anchor="middle">树图 shutu.cn</text>
<text class="wm" transform="translate(1937 2486) rotate(-30)" text-anchor="middle">树图 shutu.cn</text>
</g>
</svg>
